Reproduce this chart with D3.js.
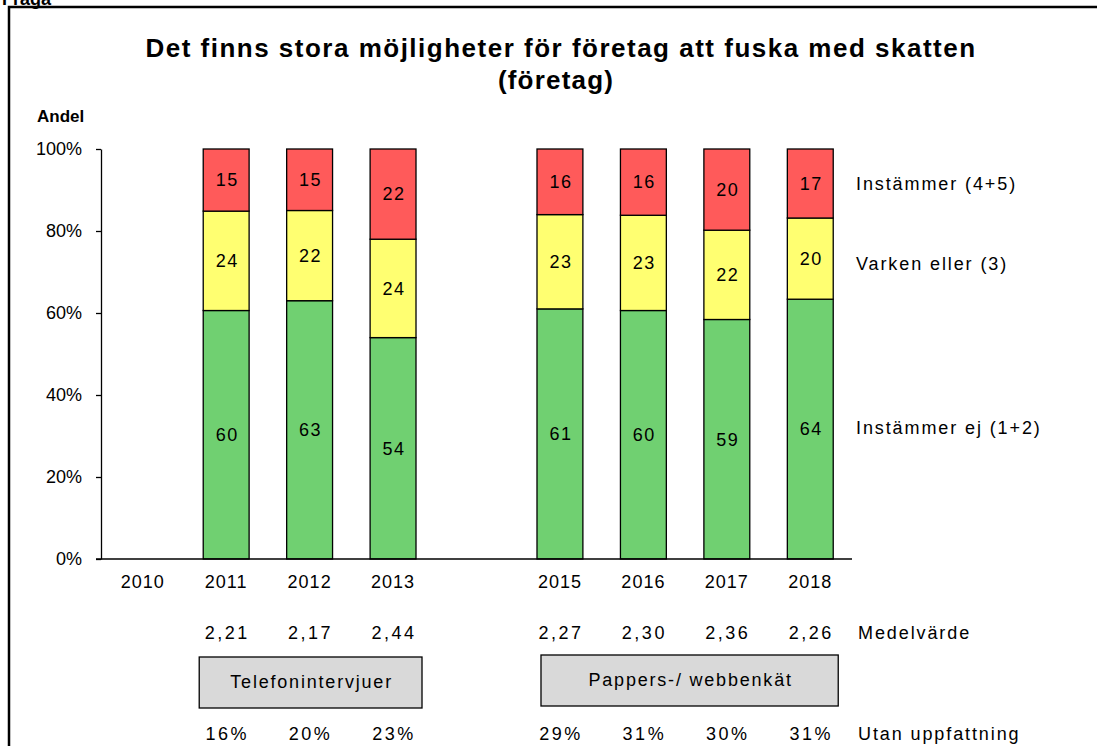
<!DOCTYPE html>
<html>
<head>
<meta charset="utf-8">
<script src="https://cdn.jsdelivr.net/npm/d3@7/dist/d3.min.js"></script>
<style>
  body { margin: 0; background: #fff; }
  text { font-family: "Liberation Sans", Arial, sans-serif; fill: #000; }
</style>
</head>
<body>
<div id="chart"></div>
<script>
var svgWidth = 1097;
var svgHeight = 746;

// data (2014 is an empty slot)
var years = ["2010", "2011", "2012", "2013", "2014", "2015", "2016", "2017", "2018"];
var yearLabels = ["2010", "2011", "2012", "2013", "", "2015", "2016", "2017", "2018"];
var instammerEj = [null, 60, 63, 54, null, 61, 60, 59, 64];
var varkenEller = [null, 24, 22, 24, null, 23, 23, 22, 20];
var instammer = [null, 15, 15, 22, null, 16, 16, 20, 17];
var medelvarde = [null, "2,21", "2,17", "2,44", null, "2,27", "2,30", "2,36", "2,26"];
var utanUppfattning = [null, "16%", "20%", "23%", null, "29%", "31%", "30%", "31%"];
var seriesNames = ["Instämmer ej (1+2)", "Varken eller (3)", "Instämmer (4+5)"];
var seriesColors = ["#70d071", "#ffff71", "#ff5a5a"];
var yTicks = [0, 0.2, 0.4, 0.6, 0.8, 1];

var margin = { top: 149, left: 101, right: 245, bottom: 187 };
var width = svgWidth - margin.left - margin.right;
var height = svgHeight - margin.top - margin.bottom;

var svg = d3.select("#chart")
  .append("svg")
  .attr("width", svgWidth)
  .attr("height", svgHeight);

// outer frame, runs off the right and bottom edges
svg.append("rect")
  .attr("x", 9).attr("y", 7)
  .attr("width", svgWidth).attr("height", svgHeight)
  .attr("fill", "none").attr("stroke", "#000").attr("stroke-width", 2.5);

svg.append("text")
  .attr("x", 2).attr("y", 5)
  .attr("font-size", "18px").attr("font-weight", "bold")
  .text("Fråga");

svg.append("text")
  .attr("x", 561).attr("y", 57)
  .attr("text-anchor", "middle")
  .attr("font-size", "26px").attr("font-weight", "bold")
  .attr("letter-spacing", "1.5px")
  .text("Det finns stora möjligheter för företag att fuska med skatten");
svg.append("text")
  .attr("x", 556).attr("y", 89)
  .attr("text-anchor", "middle")
  .attr("font-size", "26px").attr("font-weight", "bold")
  .attr("letter-spacing", "1.2px")
  .text("(företag)");

svg.append("text")
  .attr("x", 37).attr("y", 122)
  .attr("font-size", "17px").attr("font-weight", "bold")
  .text("Andel");

var chartGroup = svg.append("g")
  .attr("transform", `translate(${margin.left}, ${margin.top})`);

var xScale = d3.scaleBand()
  .domain(years)
  .range([0, width])
  .paddingInner(0.45)
  .paddingOuter(0.225);

var yScale = d3.scaleLinear()
  .domain([0, 1])
  .range([height, 0]);

// build stacks, shares normalised to the row total
var rows = years.map(function(y, i) {
  return { year: y, vals: [instammerEj[i], varkenEller[i], instammer[i]] };
});

rows.forEach(function(r) {
  if (r.vals[0] == null) return;
  var total = d3.sum(r.vals);
  var acc = 0;
  r.vals.forEach(function(v, k) {
    var y0 = acc / total;
    acc += v;
    var y1 = acc / total;
    var x = xScale(r.year);
    chartGroup.append("rect")
      .attr("x", x)
      .attr("y", yScale(y1))
      .attr("width", xScale.bandwidth())
      .attr("height", yScale(y0) - yScale(y1))
      .attr("fill", seriesColors[k])
      .attr("stroke", "#000")
      .attr("stroke-width", 1.3);
    chartGroup.append("text")
      .attr("x", x + xScale.bandwidth() / 2 + 1)
      .attr("y", (yScale(y0) + yScale(y1)) / 2)
      .attr("dy", "0.35em")
      .attr("text-anchor", "middle")
      .attr("font-size", "18px")
      .attr("letter-spacing", "1.5px")
      .text(v);
  });
});

// y axis
var leftAxis = d3.axisLeft(yScale)
  .tickValues(yTicks)
  .tickFormat(d3.format(".0%"))
  .tickSize(5)
  .tickSizeOuter(0)
  .tickPadding(14);

var yAxisG = chartGroup.append("g").call(leftAxis);
yAxisG.select(".domain").attr("stroke", "#000").attr("stroke-width", 1.3);
yAxisG.selectAll("line").attr("stroke", "#000").attr("stroke-width", 1.3);
yAxisG.selectAll("text").attr("font-size", "18px").attr("font-family", "Liberation Sans, Arial, sans-serif").attr("fill", "#000");

// x axis
var bottomAxis = d3.axisBottom(xScale)
  .tickSize(0)
  .tickPadding(16)
  .tickFormat(function(d, i) { return yearLabels[i]; });

var xAxisG = chartGroup.append("g")
  .attr("transform", `translate(0, ${height})`)
  .call(bottomAxis);
xAxisG.select(".domain").attr("d", `M-5,0H${width}`).attr("stroke", "#000").attr("stroke-width", 1.3);
xAxisG.selectAll("text")
  .attr("font-size", "18px")
  .attr("letter-spacing", "1px")
  .attr("font-family", "Liberation Sans, Arial, sans-serif").attr("fill", "#000");

// series labels on the right
var legendAt = [0.32, 0.72, 0.915];
seriesNames.forEach(function(name, k) {
  chartGroup.append("text")
    .attr("x", width + 4)
    .attr("y", yScale(legendAt[k]))
    .attr("dy", "0.35em")
    .attr("font-size", "18px")
    .attr("letter-spacing", "1.9px")
    .text(name);
});

// rows under the chart
function rowText(values, y, label) {
  values.forEach(function(v, i) {
    if (v == null) return;
    chartGroup.append("text")
      .attr("x", xScale(years[i]) + xScale.bandwidth() / 2 + 1)
      .attr("y", y)
      .attr("dy", "0.35em")
      .attr("text-anchor", "middle")
      .attr("font-size", "18px")
      .attr("letter-spacing", "2.5px")
      .text(v);
  });
  chartGroup.append("text")
    .attr("x", width + 6)
    .attr("y", y)
    .attr("dy", "0.35em")
    .attr("font-size", "18px")
    .attr("letter-spacing", "1.9px")
    .text(label);
}
rowText(medelvarde, 633 - margin.top, "Medelvärde");
rowText(utanUppfattning, 734 - margin.top, "Utan uppfattning");

// method boxes
var groups = [
  { label: "Telefonintervjuer", from: "2011", to: "2013", dl: -4, dr: 6, top: 657 },
  { label: "Pappers-/ webbenkät", from: "2015", to: "2018", dl: 4, dr: 5, top: 655 }
];
groups.forEach(function(g) {
  var x0 = xScale(g.from) + g.dl;
  var x1 = xScale(g.to) + xScale.bandwidth() + g.dr;
  chartGroup.append("rect")
    .attr("x", x0).attr("y", g.top - margin.top)
    .attr("width", x1 - x0).attr("height", 51)
    .attr("fill", "#d9d9d9")
    .attr("stroke", "#000").attr("stroke-width", 1.3);
  chartGroup.append("text")
    .attr("x", (x0 + x1) / 2 + 1)
    .attr("y", g.top - margin.top + 25)
    .attr("dy", "0.35em")
    .attr("text-anchor", "middle")
    .attr("font-size", "18px")
    .attr("letter-spacing", "1.8px")
    .text(g.label);
});
</script>
</body>
</html>
